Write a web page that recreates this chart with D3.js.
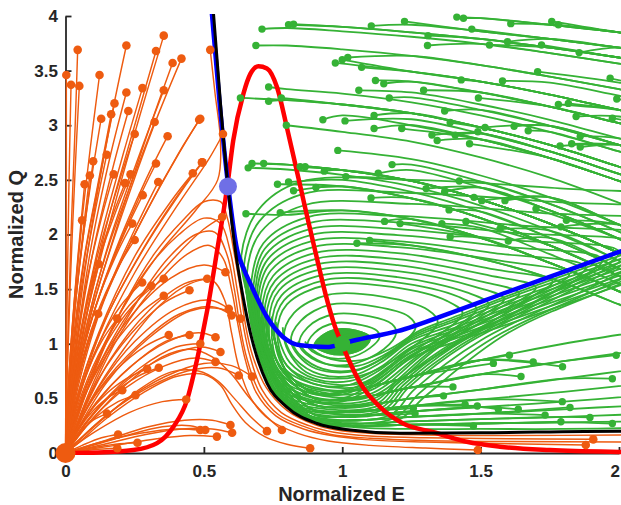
<!DOCTYPE html>
<html><head><meta charset="utf-8">
<script src="https://cdn.jsdelivr.net/npm/d3@7"></script>
<style>
body{margin:0;background:#fff}
text{font-family:"Liberation Sans",Arial,sans-serif;font-weight:bold;fill:#262626}
</style></head>
<body><svg id="c" width="621" height="505"></svg>
<script>
// ---------- axis ticks ----------
const xTicks=[0,0.5,1,1.5,2];
const xTickLabels=["0","0.5","1","1.5","2"];
const yTicks=[0,0.5,1,1.5,2,2.5,3,3.5,4];
const yTickLabels=["0","0.5","1","1.5","2","2.5","3","3.5","4"];

// ---------- nullclines / separatrix ----------
const redCurve=[[0,0],[0.12,0.005],[0.245,0.027],[0.331,0.09],[0.39,0.24],[0.439,0.484],[0.475,0.85],[0.512,1.306],[0.548,1.854],[0.584,2.43],[0.606,2.86],[0.643,3.29],[0.668,3.47],[0.697,3.54],[0.728,3.52],[0.764,3.35],[0.8,2.98],[0.836,2.58],[0.87,2.2],[0.905,1.82],[0.94,1.45],[0.972,1.17],[1.0,0.99],[1.022,0.86],[1.065,0.64],[1.137,0.42],[1.22,0.27],[1.33,0.19],[1.45,0.103],[1.57,0.058],[1.75,0.027],[2.0,0.01],[2.05,0.008]];
const blueCurve=[[0.527,4.08],[0.557,3.2],[0.588,2.44],[0.62,1.86],[0.645,1.68],[0.668,1.55],[0.728,1.245],[0.787,1.06],[0.848,0.986],[0.945,0.97],[1.0,1.0],[1.035,1.025],[1.2,1.115],[1.4,1.29],[1.6,1.476],[1.8,1.658],[2.0,1.84],[2.05,1.885]];
const blackCurve=[[0.533,4.08],[0.56,3.2],[0.587,2.44],[0.614,1.85],[0.64,1.45],[0.668,1.1],[0.698,0.83],[0.728,0.64],[0.8,0.42],[0.909,0.27],[1.029,0.21],[1.209,0.18],[1.5,0.185],[2.0,0.2],[2.05,0.2]];

// ---------- equilibria ----------
const eqOrange=[0,0], eqSaddle=[0.587,2.44], eqGreen=[1,1];

// ---------- orange trajectories (first point = start marker) ----------
const orangePaths=[
[[0.003,3.46],[0.003,2.2],[0.002,1.0],[0,0]],
[[0.044,3.69],[0.035,3.0],[0.02,2.0],[0.008,1.0],[0,0]],
[[0.02,3.37],[0.012,2.4],[0.005,1.2],[0,0]],
[[0.05,3.36],[0.035,2.6],[0.018,1.6],[0.006,0.7],[0,0]],
[[0.123,3.46],[0.09,2.8],[0.05,1.9],[0.02,1.0],[0.005,0.35],[0,0]],
[[0.22,3.73],[0.16,3.0],[0.09,2.0],[0.04,1.1],[0.012,0.45],[0,0]],
[[0.355,3.82],[0.27,3.1],[0.17,2.2],[0.08,1.3],[0.025,0.55],[0,0]],
[[0.327,3.68],[0.25,3.0],[0.15,2.1],[0.07,1.2],[0.02,0.5],[0,0]],
[[0.387,3.57],[0.3,2.95],[0.19,2.1],[0.09,1.25],[0.03,0.55],[0,0]],
[[0.419,3.61],[0.32,3.0],[0.2,2.15],[0.1,1.35],[0.035,0.6],[0,0]],
[[0.177,3.2],[0.13,2.6],[0.07,1.8],[0.03,1.0],[0.008,0.4],[0,0]],
[[0.22,3.3],[0.16,2.7],[0.09,1.85],[0.04,1.0],[0.01,0.4],[0,0]],
[[0.278,3.34],[0.21,2.75],[0.12,1.9],[0.05,1.05],[0.012,0.4],[0,0]],
[[0.355,3.32],[0.27,2.75],[0.16,1.95],[0.07,1.1],[0.02,0.45],[0,0]],
[[0.129,3.06],[0.09,2.45],[0.05,1.7],[0.02,0.9],[0.005,0.3],[0,0]],
[[0.165,3.1],[0.12,2.5],[0.065,1.75],[0.025,0.95],[0.006,0.3],[0,0]],
[[0.227,3.13],[0.17,2.6],[0.1,1.85],[0.045,1.05],[0.012,0.4],[0,0]],
[[0.322,3.03],[0.25,2.55],[0.15,1.85],[0.07,1.1],[0.02,0.45],[0,0]],
[[0.25,2.92],[0.19,2.45],[0.11,1.75],[0.05,1.0],[0.012,0.4],[0,0]],
[[0.369,2.9],[0.29,2.5],[0.18,1.85],[0.08,1.1],[0.025,0.5],[0,0]],
[[0.483,3.05],[0.4,2.7],[0.27,2.1],[0.13,1.35],[0.04,0.6],[0,0]],
[[0.149,2.73],[0.11,2.25],[0.06,1.55],[0.025,0.85],[0.006,0.25],[0,0]],
[[0.1,2.67],[0.07,2.1],[0.035,1.35],[0.012,0.6],[0,0]],
[[0.088,2.54],[0.06,1.95],[0.03,1.2],[0.01,0.5],[0,0]],
[[0.069,2.46],[0.045,1.8],[0.02,1.0],[0.005,0.35],[0,0]],
[[0.174,2.55],[0.13,2.15],[0.075,1.55],[0.03,0.85],[0.007,0.25],[0,0]],
[[0.215,2.47],[0.16,2.1],[0.09,1.5],[0.035,0.8],[0.008,0.22],[0,0]],
[[0.235,2.55],[0.18,2.2],[0.1,1.6],[0.04,0.9],[0.01,0.3],[0,0]],
[[0.327,2.65],[0.26,2.3],[0.16,1.7],[0.07,1.0],[0.02,0.4],[0,0]],
[[0.335,2.48],[0.27,2.15],[0.17,1.6],[0.075,0.95],[0.02,0.35],[0,0]],
[[0.279,2.36],[0.22,2.05],[0.13,1.5],[0.055,0.85],[0.013,0.28],[0,0]],
[[0.46,2.56],[0.38,2.3],[0.25,1.8],[0.12,1.1],[0.035,0.45],[0,0]],
[[0.495,2.66],[0.42,2.4],[0.29,1.9],[0.14,1.2],[0.04,0.5],[0,0]],
[[0.241,2.1],[0.19,1.85],[0.11,1.35],[0.045,0.75],[0.01,0.2],[0,0]],
[[0.25,1.95],[0.19,1.7],[0.11,1.25],[0.045,0.7],[0.01,0.18],[0,0]],
[[0.06,2.13],[0.04,1.6],[0.018,0.9],[0.004,0.3],[0,0]],
[[0.487,3.06],[0.41,2.75],[0.28,2.15],[0.14,1.4],[0.045,0.6],[0,0]],
[[0.569,2.92],[0.52,2.7],[0.4,2.25],[0.25,1.65],[0.12,1.0],[0.035,0.4],[0,0]],
[[0.493,2.66],[0.43,2.45],[0.3,1.95],[0.15,1.25],[0.045,0.5],[0,0]],
[[0.523,3.69],[0.54,3.3],[0.56,2.85],[0.55,2.5],[0.47,2.22],[0.33,1.8],[0.17,1.15],[0.06,0.5],[0.01,0.1],[0,0]],
[[0.566,2.16],[0.5,2.05],[0.38,1.75],[0.22,1.25],[0.1,0.7],[0.025,0.25],[0,0]],
[[0.12,1.73],[0.08,1.3],[0.04,0.75],[0.01,0.25],[0,0]],
[[0.277,1.56],[0.2,1.35],[0.12,1.0],[0.05,0.55],[0.01,0.15],[0,0]],
[[0.31,1.53],[0.23,1.35],[0.14,1.0],[0.06,0.55],[0.015,0.17],[0,0]],
[[0.355,1.595],[0.27,1.42],[0.17,1.1],[0.08,0.65],[0.02,0.2],[0,0]],
[[0.355,1.44],[0.27,1.28],[0.17,0.98],[0.08,0.58],[0.02,0.18],[0,0]],
[[0.118,1.275],[0.08,1.0],[0.04,0.6],[0.012,0.2],[0,0]],
[[0.187,1.23],[0.13,1.02],[0.07,0.68],[0.025,0.28],[0,0]],
[[0.448,1.49],[0.36,1.38],[0.24,1.1],[0.12,0.68],[0.035,0.22],[0,0]],
[[0.512,1.595],[0.43,1.55],[0.3,1.3],[0.16,0.85],[0.05,0.3],[0,0]],
[[0.373,1.08],[0.29,0.98],[0.18,0.75],[0.08,0.42],[0.02,0.12],[0,0]],
[[0.448,1.08],[0.36,1.02],[0.24,0.8],[0.11,0.46],[0.03,0.14],[0,0]],
[[0.487,1.0],[0.4,0.97],[0.27,0.78],[0.13,0.45],[0.035,0.13],[0,0]],
[[0.295,0.77],[0.22,0.68],[0.13,0.5],[0.05,0.24],[0,0]],
[[0.337,0.78],[0.26,0.7],[0.16,0.52],[0.07,0.27],[0.015,0.06],[0,0]],
[[0.205,0.575],[0.15,0.5],[0.08,0.33],[0.025,0.12],[0,0]],
[[0.253,0.53],[0.19,0.47],[0.11,0.33],[0.04,0.14],[0,0]],
[[0.15,0.36],[0.1,0.3],[0.05,0.18],[0.015,0.06],[0,0]],
[[0.436,0.49],[0.35,0.47],[0.23,0.37],[0.11,0.2],[0.03,0.06],[0,0]],
[[0.487,0.21],[0.4,0.22],[0.27,0.18],[0.13,0.1],[0.03,0.025],[0,0]],
[[0.19,0.17],[0.13,0.14],[0.06,0.07],[0,0]],
[[0.26,0.094],[0.18,0.08],[0.08,0.04],[0,0]],
[[0.187,0.043],[0.1,0.03],[0,0]],
[[0.578,1.655],[0.5,1.72],[0.38,1.6],[0.22,1.2],[0.1,0.7],[0.025,0.22],[0,0]],
[[0.59,1.32],[0.52,1.4],[0.4,1.32],[0.25,1.02],[0.12,0.6],[0.03,0.18],[0,0]],
[[0.6,1.26],[0.53,1.34],[0.41,1.27],[0.26,0.98],[0.12,0.58],[0.03,0.17],[0,0]],
[[0.632,1.23],[0.56,1.32],[0.45,1.3],[0.3,1.05],[0.15,0.65],[0.04,0.2],[0,0]],
[[0.542,1.06],[0.48,1.1],[0.37,1.02],[0.23,0.78],[0.1,0.42],[0.025,0.12],[0,0]],
[[0.56,0.925],[0.49,0.97],[0.38,0.9],[0.24,0.7],[0.11,0.38],[0.025,0.1],[0,0]],
[[0.542,0.834],[0.47,0.87],[0.36,0.8],[0.22,0.6],[0.1,0.32],[0.02,0.07],[0,0]],
[[0.626,0.71],[0.55,0.78],[0.44,0.75],[0.3,0.6],[0.15,0.35],[0.04,0.1],[0,0]],
[[0.674,0.7],[0.6,0.8],[0.5,0.82],[0.36,0.7],[0.2,0.45],[0.07,0.17],[0,0]],
[[0.505,0.21],[0.45,0.25],[0.35,0.24],[0.22,0.16],[0.1,0.07],[0,0]],
[[0.596,0.256],[0.53,0.3],[0.43,0.3],[0.3,0.24],[0.15,0.12],[0,0]],
[[0.602,0.185],[0.53,0.22],[0.42,0.22],[0.29,0.17],[0.14,0.08],[0,0]],
[[0.728,0.2],[0.67,0.33],[0.61,0.5],[0.55,0.66],[0.48,0.75],[0.38,0.74],[0.26,0.57],[0.13,0.3],[0.03,0.07],[0,0]],
[[0.782,0.21],[0.72,0.35],[0.66,0.52],[0.6,0.72],[0.53,0.88],[0.45,0.95],[0.35,0.88],[0.22,0.63],[0.1,0.32],[0.025,0.08],[0,0]],
[[0.884,0.043],[0.8,0.08],[0.72,0.15],[0.65,0.28],[0.6,0.45],[0.56,0.62],[0.5,0.72],[0.4,0.7],[0.28,0.55],[0.15,0.32],[0.05,0.1],[0,0]],
[[0.547,0.15],[0.45,0.16],[0.33,0.13],[0.18,0.07],[0,0]],
[[1.907,0.125],[1.6,0.13],[1.3,0.14],[1.1,0.155],[0.97,0.19],[0.88,0.25],[0.78,0.37],[0.71,0.58],[0.665,0.9],[0.64,1.2],[0.62,1.5],[0.595,1.85],[0.56,2.1],[0.5,2.15],[0.41,2.0],[0.3,1.7],[0.18,1.2],[0.08,0.6],[0.02,0.14],[0,0]],
[[1.88,0.073],[1.6,0.085],[1.3,0.1],[1.1,0.12],[0.96,0.16],[0.86,0.22],[0.76,0.34],[0.69,0.55],[0.65,0.85],[0.625,1.15],[0.6,1.5],[0.57,1.78],[0.52,1.9],[0.44,1.82],[0.33,1.55],[0.2,1.1],[0.09,0.55],[0.02,0.12],[0,0]],
[[1.49,0.027],[1.3,0.045],[1.1,0.07],[0.95,0.11],[0.84,0.18],[0.74,0.3],[0.67,0.5],[0.625,0.8],[0.6,1.1],[0.575,1.4],[0.53,1.58],[0.45,1.55],[0.34,1.35],[0.21,0.95],[0.09,0.48],[0.02,0.1],[0,0]],
[[2.05,0.165],[1.6,0.16],[1.3,0.165],[1.1,0.18],[0.98,0.21],[0.9,0.26],[0.8,0.39],[0.725,0.6],[0.675,0.9],[0.652,1.15],[0.632,1.5],[0.608,1.85],[0.585,2.15],[0.56,2.3],[0.5,2.3],[0.42,2.12],[0.32,1.82],[0.2,1.3],[0.09,0.65],[0.02,0.15],[0,0]],
[[2.05,0.1],[1.6,0.105],[1.3,0.115],[1.1,0.135],[0.96,0.17],[0.87,0.235],[0.77,0.35],[0.7,0.56],[0.655,0.87],[0.63,1.17],[0.61,1.5],[0.583,1.82],[0.54,2.02],[0.47,2.0],[0.37,1.78],[0.25,1.35],[0.12,0.75],[0.03,0.2],[0,0]]
];

// ---------- green: upper lanes (Q read at stations of E) ----------
const greenLaneStations=[0.65,0.8,1.0,1.25,1.5,1.75,2.0,2.2];
const greenLanes=[
[4.06,4.05,4.04,4.02,3.98,3.92,3.85,3.78],
[3.99,3.98,3.96,3.92,3.86,3.79,3.71,3.64],
[3.94,3.93,3.9,3.85,3.79,3.71,3.62,3.54],
[3.9,3.89,3.86,3.81,3.745,3.66,3.565,3.48],
[3.87,3.85,3.82,3.77,3.7,3.61,3.51,3.42],
[3.79,3.77,3.74,3.68,3.6,3.5,3.39,3.3],
[3.75,3.73,3.695,3.635,3.55,3.445,3.33,3.235],
[3.71,3.69,3.65,3.59,3.5,3.39,3.27,3.17],
[3.62,3.6,3.56,3.49,3.4,3.28,3.14,3.03],
[3.575,3.555,3.515,3.445,3.35,3.225,3.08,2.965],
[3.53,3.51,3.47,3.4,3.3,3.17,3.02,2.9],
[3.44,3.42,3.38,3.3,3.19,3.05,2.88,2.75],
[3.395,3.375,3.335,3.255,3.14,2.995,2.82,2.685],
[3.35,3.33,3.29,3.21,3.09,2.94,2.76,2.62],
[3.25,3.23,3.19,3.11,2.98,2.82,2.62,2.46],
[3.2,3.18,3.14,3.055,2.925,2.76,2.555,2.39],
[3.15,3.13,3.09,3.0,2.87,2.7,2.49,2.32],
[3.05,3.03,2.99,2.9,2.76,2.58,2.36,2.17],
[3.0,2.98,2.94,2.85,2.705,2.52,2.29,2.095],
[2.95,2.93,2.89,2.8,2.65,2.46,2.22,2.02],
[2.85,2.83,2.79,2.69,2.54,2.34,2.09,1.87],
[2.8,2.785,2.74,2.64,2.485,2.28,2.025,1.795],
[2.75,2.74,2.69,2.59,2.43,2.22,1.96,1.72],
[2.65,2.64,2.59,2.49,2.32,2.1,1.83,1.57],
[2.6,2.595,2.545,2.44,2.265,2.035,1.76,1.495],
[2.55,2.55,2.5,2.39,2.21,1.97,1.69,1.42],
[2.3,2.42,2.44,2.33,2.15,1.9,1.62,1.38],
[2.18,2.3,2.34,2.24,2.06,1.82,1.55,1.3],
[2.05,2.18,2.22,2.14,1.97,1.74,1.48,1.24],
[1.9,2.02,2.08,2.02,1.88,1.68,1.42,1.2],
[1.75,1.88,1.95,1.9,1.78,1.6,1.36,1.15]
];
const greenTopDots=[[0.71,3.88],[0.806,3.92],[0.824,3.925],[0.688,3.73],[1.105,3.91],[1.225,3.95],[0.975,3.57],[1.0,3.6],[1.02,3.62],[1.07,3.53],[1.12,3.41],[1.15,3.38],[1.06,3.32],[1.17,3.25],[0.734,3.35],[0.632,3.25],[0.734,3.22],[0.78,3.25],[0.93,3.05],[1.01,3.04],[1.115,3.09],[1.115,2.97],[1.215,2.97],[0.798,3.0],[0.984,2.77],[1.18,2.64],[0.674,2.65],[0.66,2.61],[0.716,2.65],[0.848,2.62],[0.866,2.62],[0.935,2.58],[1.013,2.53],[1.13,2.56],[0.766,2.46],[0.806,2.48],[0.824,2.40],[0.905,2.43],[1.104,2.335],[0.652,2.19],[0.776,2.2],[1.153,2.12],[1.209,2.10],[1.053,1.92],[1.099,1.945],[1.414,3.99],[1.438,3.98],[1.609,3.93],[1.757,3.95],[1.781,3.92],[1.468,3.88],[1.31,3.82],[1.308,3.73],[1.532,3.735],[1.597,3.765],[1.72,3.735],[1.856,3.665],[1.706,3.49],[1.968,3.43],[1.43,3.415],[1.579,3.405],[1.294,3.32],[1.492,3.25],[1.992,3.24],[1.781,3.19],[1.817,3.2],[1.845,3.08],[1.976,3.065],[1.37,3.13],[1.39,3.025],[1.621,2.99],[1.49,2.94],[1.516,2.98],[1.672,2.95],[1.86,2.90],[1.324,2.91],[1.408,2.91],[1.343,2.86],[1.46,2.83],[1.787,2.81],[1.829,2.83],[1.86,2.80],[1.423,2.49],[1.303,2.42],[1.37,2.39],[1.476,2.34],[1.504,2.31],[1.588,2.31],[1.70,2.235],[1.386,2.225],[1.36,2.10],[1.447,2.12],[1.57,2.05],[1.81,2.13],[1.79,2.07],[1.39,1.98],[1.6,1.94]];

// ---------- green: lower lanes (moving left, then up the left side) ----------
const bottomLaneStations=[2.1,1.8,1.5,1.25,1.05,0.9,0.8];
const bottomLanes=[
[1.12,1.0,0.85,0.7,0.58,0.55,0.74],
[0.95,0.84,0.72,0.6,0.5,0.5,0.7],
[0.78,0.68,0.58,0.5,0.43,0.44,0.64],
[0.64,0.56,0.49,0.43,0.38,0.39,0.6],
[0.53,0.47,0.42,0.38,0.34,0.35,0.56],
[0.44,0.4,0.36,0.33,0.3,0.32,0.53],
[0.36,0.33,0.31,0.29,0.27,0.3,0.5],
[0.29,0.28,0.27,0.26,0.25,0.29,0.47],
[0.23,0.22,0.22,0.22,0.235,0.28,0.45]
];
const bottomLaneUp=[[0.765,0.95],[0.745,0.95],[0.73,0.95],[0.72,0.97],[0.71,0.98],[0.705,1.0],[0.7,1.02],[0.695,1.04],[0.69,1.05]];
const bottomLaneLeft=[[0.745,1.16],[0.725,1.23],[0.71,1.3],[0.695,1.38],[0.685,1.45],[0.67,1.53],[0.655,1.63],[0.645,1.72],[0.635,1.8]];
const greenBottomDots=[[1.99,0.895],[1.69,0.834],[1.546,0.82],[1.796,0.79],[1.604,0.895],[1.646,0.70],[1.40,0.605],[1.366,0.523],[1.976,0.68],[1.257,0.41],[1.263,0.36],[1.444,0.445],[1.488,0.43],[1.564,0.40],[1.636,0.40],[1.795,0.47],[1.823,0.417],[1.733,0.347],[1.895,0.326],[1.79,0.286],[1.976,0.27],[1.474,0.247]];

// ---------- green: band of returning flow below the blue nullcline ----------
const greenBand=[
[[2.1,1.62],[1.85,1.40],[1.6,1.18],[1.4,1.01],[1.25,0.87],[1.12,0.62],[1.0,0.47],[0.85,0.5],[0.75,0.72],[0.7,1.1],[0.685,1.45]],
[[2.1,1.65],[1.85,1.43],[1.6,1.21],[1.4,1.04],[1.25,0.9],[1.12,0.65],[1.0,0.5],[0.86,0.53],[0.76,0.74],[0.71,1.1],[0.695,1.4]],
[[2.1,1.68],[1.85,1.46],[1.6,1.24],[1.4,1.06],[1.25,0.92],[1.12,0.68],[1.01,0.54],[0.87,0.56],[0.77,0.76],[0.72,1.1],[0.705,1.35]],
[[2.1,1.71],[1.85,1.49],[1.6,1.27],[1.4,1.09],[1.25,0.95],[1.13,0.71],[1.02,0.58],[0.88,0.6],[0.78,0.78],[0.73,1.1],[0.72,1.3]],
[[2.1,1.74],[1.85,1.52],[1.6,1.3],[1.4,1.12],[1.25,0.97],[1.13,0.75],[1.02,0.62],[0.89,0.64],[0.8,0.8],[0.755,1.05],[0.745,1.25]],
[[2.1,1.77],[1.85,1.55],[1.6,1.33],[1.4,1.14],[1.25,1.0],[1.14,0.79],[1.03,0.66],[0.9,0.68],[0.81,0.83],[0.77,1.05],[0.76,1.2]],
[[2.1,1.8],[1.85,1.58],[1.6,1.36],[1.4,1.17],[1.25,1.03],[1.14,0.83],[1.04,0.71],[0.92,0.72],[0.83,0.86],[0.79,1.05],[0.785,1.15]],
[[2.1,1.83],[1.85,1.61],[1.6,1.39],[1.4,1.2],[1.26,1.06],[1.15,0.87],[1.05,0.76],[0.93,0.77],[0.85,0.89],[0.815,1.02]],
[[2.1,1.86],[1.85,1.64],[1.6,1.42],[1.4,1.22],[1.27,1.09],[1.16,0.91],[1.06,0.8],[0.95,0.81],[0.87,0.92],[0.84,1.02]],
[[2.1,1.89],[1.85,1.67],[1.6,1.44],[1.4,1.24],[1.28,1.12],[1.17,0.95],[1.07,0.85],[0.96,0.86],[0.89,0.95],[0.865,1.02]]
];

// ---------- green: spiral loops around (1,1), clockwise ----------
const greenLoops=[
[[0.945,1.0],[0.96,1.035],[0.99,1.06],[1.025,1.05],[1.045,1.025],[1.035,0.99],[1.005,0.97],[0.975,0.97]],
[[0.925,0.99],[0.945,1.05],[0.982,1.09],[1.035,1.08],[1.07,1.04],[1.055,0.98],[1.012,0.94],[0.965,0.945]],
[[0.9,0.985],[0.925,1.07],[0.978,1.13],[1.05,1.12],[1.1,1.06],[1.08,0.97],[1.015,0.905],[0.95,0.915]],
[[0.875,0.98],[0.9,1.1],[0.975,1.19],[1.07,1.17],[1.125,1.12],[1.135,1.06],[1.1,0.96],[1.02,0.87],[0.93,0.885]],
[[0.845,0.99],[0.875,1.15],[0.969,1.27],[1.1,1.25],[1.18,1.18],[1.195,1.1],[1.15,0.95],[1.03,0.81],[0.91,0.84]],
[[0.815,1.02],[0.85,1.21],[0.96,1.36],[1.12,1.34],[1.24,1.25],[1.265,1.15],[1.2,0.97],[1.045,0.75],[0.89,0.79]],
[[0.79,1.05],[0.825,1.28],[0.952,1.45],[1.15,1.43],[1.31,1.31],[1.345,1.2],[1.27,1.0],[1.055,0.7],[0.87,0.74]],
[[0.765,1.1],[0.8,1.36],[0.946,1.54],[1.18,1.52],[1.38,1.39],[1.435,1.28],[1.36,1.1],[1.2,0.85],[1.07,0.64],[0.9,0.66],[0.8,0.8]],
[[0.755,1.13],[0.79,1.4],[0.94,1.585],[1.19,1.565],[1.42,1.43],[1.485,1.32],[1.41,1.15],[1.23,0.86],[1.078,0.615],[0.9,0.63],[0.79,0.78]],
[[0.745,1.16],[0.78,1.44],[0.93,1.63],[1.2,1.61],[1.45,1.47],[1.53,1.36],[1.45,1.2],[1.25,0.88],[1.085,0.59],[0.9,0.6],[0.78,0.76]],
[[0.735,1.2],[0.772,1.49],[0.922,1.68],[1.2,1.665],[1.48,1.52],[1.585,1.41],[1.5,1.25],[1.28,0.9],[1.092,0.565],[0.9,0.57],[0.775,0.73]],
[[0.725,1.23],[0.765,1.53],[0.915,1.73],[1.2,1.72],[1.5,1.57],[1.64,1.46],[1.55,1.3],[1.3,0.92],[1.1,0.54],[0.9,0.54],[0.77,0.7]],
[[0.718,1.27],[0.757,1.575],[0.908,1.78],[1.2,1.775],[1.53,1.625],[1.7,1.515],[1.61,1.35],[1.33,0.95],[1.108,0.52],[0.9,0.51],[0.765,0.68]],
[[0.71,1.3],[0.75,1.62],[0.9,1.83],[1.2,1.83],[1.55,1.68],[1.76,1.57],[1.66,1.4],[1.35,0.97],[1.115,0.5],[0.9,0.48],[0.76,0.66]],
[[0.702,1.34],[0.742,1.67],[0.895,1.885],[1.2,1.885],[1.57,1.76],[1.82,1.635],[1.7,1.45],[1.38,0.95],[1.2,0.66],[1.122,0.48],[0.93,0.45],[0.77,0.6],[0.725,0.95]],
[[0.695,1.38],[0.735,1.72],[0.89,1.94],[1.2,1.94],[1.55,1.83],[1.88,1.7],[1.65,1.36],[1.35,0.93],[1.2,0.64],[1.13,0.46],[0.95,0.42],[0.78,0.55],[0.72,0.9]],
[[0.69,1.415],[0.73,1.77],[0.886,1.995],[1.2,1.995],[1.58,1.89],[1.94,1.77],[1.72,1.42],[1.38,0.96],[1.21,0.63],[1.138,0.44],[0.95,0.4],[0.78,0.52],[0.718,0.88]],
[[0.685,1.45],[0.725,1.82],[0.883,2.05],[1.2,2.05],[1.6,1.95],[2.0,1.84],[1.75,1.45],[1.4,0.97],[1.22,0.62],[1.145,0.42],[0.95,0.38],[0.78,0.5],[0.715,0.85]],
[[0.678,1.49],[0.72,1.87],[0.88,2.105],[1.2,2.11],[1.62,2.015],[2.08,1.9],[1.8,1.49],[1.43,0.99],[1.23,0.61],[1.152,0.4],[0.95,0.36],[0.78,0.485],[0.712,0.835],[0.69,1.2]],
[[0.67,1.53],[0.715,1.92],[0.876,2.16],[1.2,2.17],[1.65,2.08],[2.15,1.96],[1.85,1.52],[1.45,1.0],[1.24,0.6],[1.16,0.38],[0.95,0.34],[0.78,0.47],[0.71,0.82],[0.685,1.15]],
[[0.655,1.63],[0.705,2.02],[0.866,2.27],[1.25,2.28],[1.7,2.2],[2.3,2.06],[1.95,1.58],[1.5,1.03],[1.26,0.58],[1.175,0.35],[0.95,0.31],[0.79,0.44],[0.715,0.78],[0.68,1.2]],
[[0.645,1.72],[0.7,2.12],[0.856,2.37],[1.25,2.38],[1.75,2.3],[2.45,2.15],[2.05,1.64],[1.55,1.06],[1.28,0.55],[1.19,0.32],[0.95,0.29],[0.8,0.44],[0.72,0.74],[0.675,1.12],[0.655,1.45]],
[[0.635,1.8],[0.695,2.22],[0.845,2.48],[1.25,2.5],[1.8,2.42],[2.6,2.25],[2.15,1.7],[1.6,1.1],[1.3,0.52],[1.2,0.3],[0.95,0.27],[0.8,0.45],[0.72,0.75],[0.68,1.1],[0.655,1.45]]
];

// ---------- drawing ----------
const ORANGE="#ee5b10", GREEN="#35b235";
const svg=d3.select("#c");
const x=d3.scaleLinear().domain([0,2]).range([65.5,619]);
const y=d3.scaleLinear().domain([0,4]).range([453,16]);

svg.append("defs").append("clipPath").attr("id","clip").append("rect")
  .attr("x",x(0)-2).attr("y",y(4)-2).attr("width",x(2)-x(0)+4).attr("height",y(0)-y(4)+4);

// axes (beneath data)
const ax=svg.append("g").attr("transform",`translate(0,${y(0)})`)
  .call(d3.axisBottom(x).tickValues(xTicks).tickFormat((d,i)=>xTickLabels[i]).tickSizeInner(-6).tickSizeOuter(0).tickPadding(12));
const ay=svg.append("g").attr("transform",`translate(${x(0)},0)`)
  .call(d3.axisLeft(y).tickValues(yTicks).tickFormat((d,i)=>yTickLabels[i]).tickSizeInner(-6).tickSizeOuter(0).tickPadding(7.5));
[ax,ay].forEach(g=>{
  g.selectAll("path,line").attr("stroke","#262626").attr("stroke-width",1.8);
  g.selectAll("text").attr("font-size",17).attr("font-family","'Liberation Sans',Arial,sans-serif").attr("font-weight","bold").attr("fill","#262626");
});
ax.selectAll(".tick text").filter(d=>d===2).attr("text-anchor","end").attr("dx","0.5");

svg.append("text").attr("x",341.5).attr("y",501).attr("text-anchor","middle").attr("font-size",20).text("Normalized E");
svg.append("text").attr("transform","translate(23,234.5) rotate(-90)").attr("text-anchor","middle").attr("font-size",20).text("Normalized Q");

const plot=svg.append("g").attr("clip-path","url(#clip)");
const line=d3.line().x(d=>x(d[0])).y(d=>y(d[1])).curve(d3.curveCatmullRom.alpha(0.5));
const loop=d3.line().x(d=>x(d[0])).y(d=>y(d[1])).curve(d3.curveCatmullRomClosed.alpha(0.5));
const smooth=d3.line().x(d=>x(d[0])).y(d=>y(d[1])).curve(d3.curveMonotoneX);

// build green paths from dots + lanes
function topPath(d){
  let k=greenLaneStations.findIndex(s=>s>=d[0]); if(k<0) k=greenLaneStations.length-1;
  let best=0,bd=1e9;
  greenLanes.forEach((ln,i)=>{const dd=Math.abs(ln[k]-d[1]); if(dd<bd){bd=dd;best=i;}});
  const pts=[d];
  greenLaneStations.forEach((s,i)=>{ if(s>d[0]+0.06) pts.push([s,greenLanes[best][i]]); });
  return pts;
}
function bottomPath(d){
  let k=bottomLaneStations.findIndex(s=>s<=d[0]); if(k<0) k=bottomLaneStations.length-1;
  let best=0,bd=1e9;
  bottomLanes.forEach((ln,i)=>{const dd=Math.abs(ln[k]-d[1]); if(dd<bd){bd=dd;best=i;}});
  const pts=[d];
  bottomLaneStations.forEach((s,i)=>{ if(s<d[0]-0.06) pts.push([s,bottomLanes[best][i]]); });
  pts.push(bottomLaneUp[best], bottomLaneLeft[best]);
  return pts;
}
const greenPaths=[];
bottomLanes.forEach((ln,i)=>greenPaths.push(bottomLaneStations.map((s,j)=>[s,ln[j]]).concat([bottomLaneUp[i],bottomLaneLeft[i]])));
greenBand.forEach(p=>greenPaths.push(p));
greenTopDots.forEach(d=>greenPaths.push(topPath(d)));
greenBottomDots.forEach(d=>greenPaths.push(bottomPath(d)));

// green
const gg=plot.append("g").attr("fill","none").attr("stroke",GREEN).attr("stroke-width",1.8);
gg.append("path").attr("d",loop(greenLoops[2])).attr("fill",GREEN);
gg.selectAll("path.loop").data(greenLoops).join("path").attr("class","loop").attr("d",loop);
gg.selectAll("path.tr").data(greenPaths).join("path").attr("class","tr").attr("d",line);
svg.append("g").attr("fill",GREEN).selectAll("circle").data(greenTopDots.concat(greenBottomDots)).join("circle")
  .attr("cx",d=>x(d[0])).attr("cy",d=>y(d[1])).attr("r",3.7);

// orange
plot.append("g").attr("fill","none").attr("stroke",ORANGE).attr("stroke-width",1.45)
  .selectAll("path").data(orangePaths).join("path").attr("d",line);
svg.append("g").attr("fill",ORANGE).selectAll("circle").data(orangePaths.map(p=>p[0]).filter(d=>d[0]<=2)).join("circle")
  .attr("cx",d=>x(d[0])).attr("cy",d=>y(d[1])).attr("r",4.3);

// nullclines & separatrix
plot.append("path").attr("d",smooth(redCurve)).attr("fill","none").attr("stroke","#ff0000").attr("stroke-width",4.5);
plot.append("path").attr("d",smooth(blueCurve)).attr("fill","none").attr("stroke","#0000ff").attr("stroke-width",4.5);
plot.append("path").attr("d",smooth(blackCurve)).attr("fill","none").attr("stroke","#000000").attr("stroke-width",3);

// equilibria
svg.append("circle").attr("cx",x(eqOrange[0])).attr("cy",y(eqOrange[1])).attr("r",10).attr("fill",ORANGE);
svg.append("circle").attr("cx",x(eqSaddle[0])).attr("cy",y(eqSaddle[1])).attr("r",9).attr("fill","#6f6fe6");
svg.append("circle").attr("cx",x(eqGreen[0])).attr("cy",y(eqGreen[1])).attr("r",8).attr("fill",GREEN);
</script></body></html>
